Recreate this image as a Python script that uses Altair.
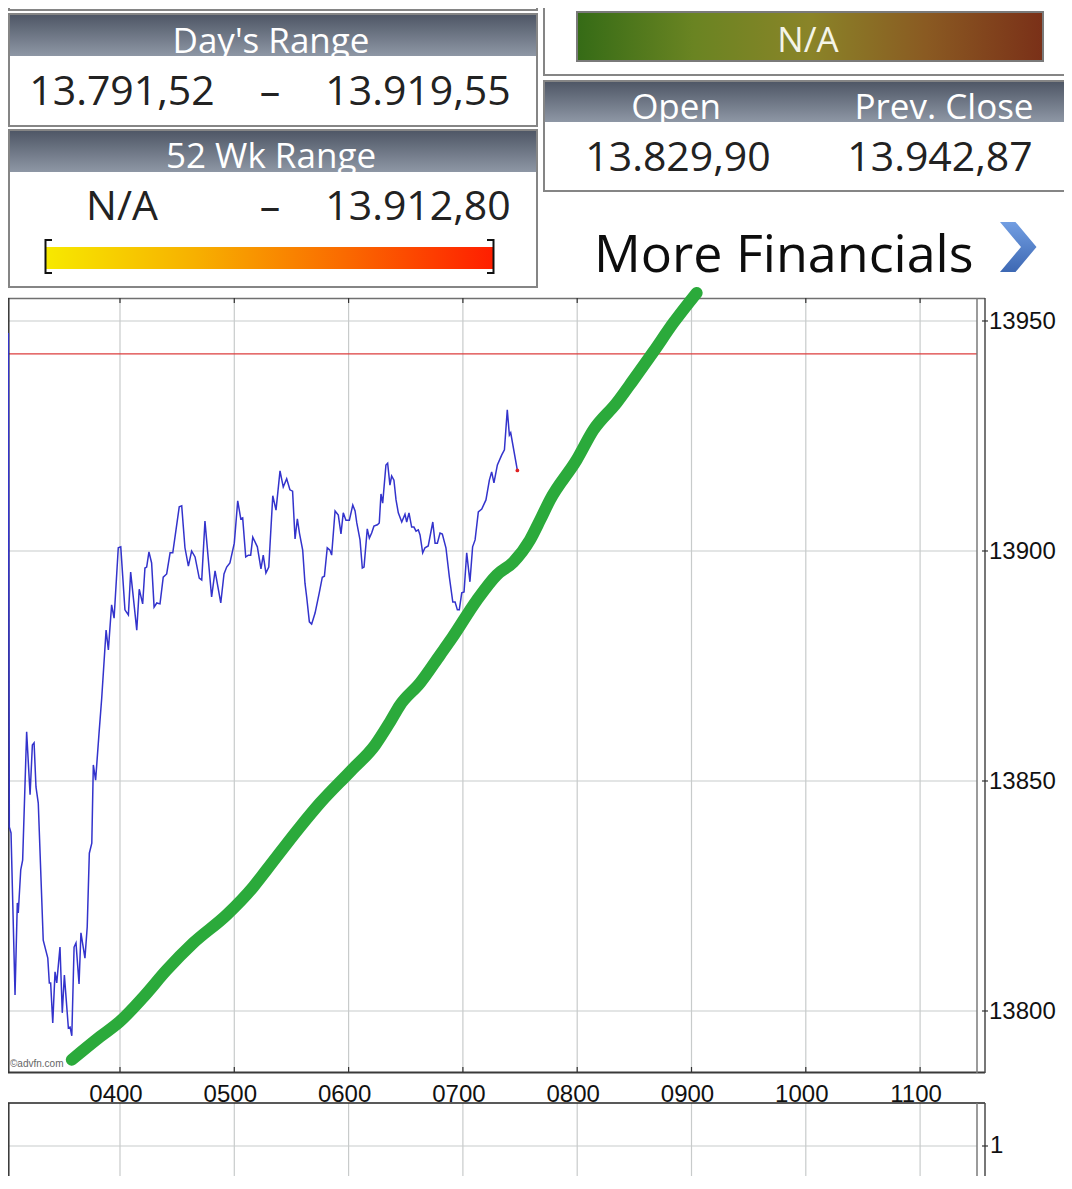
import altair as alt
import pandas as pd

# ---------------- data ----------------
# intraday index (minutes after midnight, value)
blue_t = [181.4, 181.9, 182.8, 184.9, 186.1, 186.6, 187.9, 188.9, 191.0, 192.8,
          194.0, 194.9, 195.9, 197.1, 199.7, 202.1, 202.9, 203.6, 204.7, 205.9,
          206.8, 208.5, 209.7, 210.8, 212.9, 213.8, 214.7, 215.9, 216.9, 218.5,
          219.5, 221.6, 222.8, 223.9, 225.2, 226.0, 227.2, 229.0, 230.4, 232.7,
          233.9, 235.6, 236.9, 239.1, 240.4, 242.6, 244.4, 245.6, 248.8, 250.1,
          251.9, 253.1, 254.0, 255.2, 256.6, 257.9, 259.3, 261.0, 262.7, 264.5,
          266.3, 267.7, 269.4, 271.1, 272.4, 274.1, 275.9, 277.6, 279.4, 281.6,
          282.9, 284.6, 288.1, 289.9, 292.9, 294.6, 296.0, 297.7, 300.0, 301.8,
          303.4, 304.4, 306.0, 307.4, 308.6, 309.7, 312.1, 314.0, 315.2, 316.6,
          318.1, 320.2, 321.9, 324.0, 325.7, 327.5, 329.2, 330.6, 331.9, 333.1,
          334.2, 335.9, 337.1, 338.0, 339.4, 340.6, 342.4, 344.6, 346.2, 347.3,
          348.8, 350.2, 351.1, 352.9, 354.6, 356.0, 357.2, 358.6, 360.4, 362.2,
          363.4, 364.3, 366.0, 367.2, 368.1, 369.8, 370.9, 372.1, 373.3, 375.1,
          376.1, 377.0, 377.9, 379.6, 380.5, 381.7, 382.6, 383.8, 384.9, 386.1,
          387.9, 389.6, 390.5, 391.7, 393.1, 394.3, 395.4, 396.6, 397.5, 398.9,
          400.1, 401.8, 404.2, 405.4, 406.6, 408.0, 409.2, 411.1, 412.9, 414.7,
          415.9, 417.1, 418.1, 419.4, 420.6, 422.0, 423.7, 425.1, 426.4, 428.1,
          429.9, 432.1, 433.9, 435.1, 436.3, 438.1, 440.4, 441.8, 443.3, 444.4,
          445.1, 448.6]
blue_v = [13947.4, 13840.0, 13838.7, 13803.5, 13823.5, 13821.3, 13830.7, 13832.8, 13860.7, 13847.0,
          13857.8, 13858.3, 13848.7, 13845.2, 13815.4, 13811.5, 13806.1, 13806.1, 13797.4, 13808.5,
          13806.1, 13813.9, 13799.6, 13807.8, 13796.3, 13796.5, 13794.6, 13813.9, 13814.8, 13805.9,
          13817.0, 13811.5, 13818.3, 13834.3, 13836.5, 13853.5, 13850.2, 13860.4, 13868.0, 13882.8,
          13878.5, 13888.3, 13885.4, 13900.7, 13900.9, 13887.2, 13886.1, 13895.4, 13882.8, 13891.7,
          13888.5, 13896.3, 13896.5, 13899.8, 13897.4, 13887.8, 13888.7, 13888.5, 13894.3, 13895.0,
          13899.6, 13899.6, 13904.6, 13909.6, 13909.8, 13900.7, 13896.7, 13900.0, 13898.7, 13894.1,
          13893.7, 13906.5, 13890.0, 13895.7, 13888.7, 13895.0, 13896.5, 13897.4, 13901.7, 13910.9,
          13907.0, 13907.2, 13898.7, 13899.1, 13899.1, 13903.0, 13900.9, 13896.1, 13899.1, 13895.2,
          13896.5, 13912.0, 13908.9, 13917.4, 13913.9, 13915.7, 13913.3, 13913.0, 13902.6, 13907.0,
          13903.9, 13900.2, 13893.0, 13890.0, 13884.6, 13884.1, 13886.5, 13890.9, 13894.3, 13894.5,
          13900.7, 13900.2, 13899.1, 13908.7, 13907.8, 13903.7, 13908.3, 13906.7, 13906.7, 13910.0,
          13908.7, 13906.1, 13902.4, 13896.3, 13896.5, 13904.8, 13902.8, 13903.9, 13905.4, 13905.7,
          13906.1, 13912.4, 13910.4, 13918.7, 13919.1, 13914.3, 13916.3, 13915.4, 13911.1, 13908.3,
          13906.3, 13908.0, 13906.3, 13908.3, 13905.2, 13905.2, 13904.3, 13904.6, 13903.5, 13899.6,
          13900.7, 13901.1, 13906.3, 13901.7, 13901.7, 13903.9, 13903.7, 13900.7, 13894.3, 13888.9,
          13888.9, 13887.2, 13887.2, 13890.9, 13891.1, 13899.6, 13893.3, 13900.9, 13902.4, 13908.5,
          13909.1, 13911.1, 13915.4, 13917.2, 13914.8, 13918.7, 13920.9, 13922.0, 13930.7, 13925.2,
          13925.7, 13917.5]

# hand-drawn green trend stroke
green_t = [214.7, 229.5, 239.6, 252.2, 264.5, 278.5, 296.0, 310.0, 317.0, 334.5,
           345.0, 360.7, 373.9, 381.7, 387.0, 397.5, 408.0, 414.3, 427.3, 437.8,
           446.5, 455.2, 460.5, 465.7, 479.7, 488.5, 500.7, 509.5, 520.0, 530.5, 542.7]
green_v = [13789.4, 13794.4, 13797.6, 13803.0, 13808.9, 13814.8, 13820.9, 13827.0, 13830.7, 13840.0,
           13845.2, 13852.0, 13857.8, 13862.8, 13866.5, 13871.3, 13877.4, 13881.1, 13889.3, 13894.8,
           13897.6, 13902.4, 13906.7, 13911.1, 13919.8, 13926.3, 13932.2, 13937.2, 13943.3, 13949.6, 13956.1]

prev_close = 13942.87
hour_ticks = [240, 300, 360, 420, 480, 540, 600, 660]
hour_labels = ["0400", "0500", "0600", "0700", "0800", "0900", "1000", "1100"]
y_ticks = [13800, 13850, 13900, 13950]
y_labels = ["13800", "13850", "13900", "13950"]

days_range = ["13.791,52", "13.919,55"]
wk52_range = ["N/A", "13.912,80"]
sentiment = "N/A"
open_close_titles = ["Open", "Prev. Close"]
open_close_vals = ["13.829,90", "13.942,87"]
more_text = "More Financials"
credit = "\u00a9advfn.com"

# ---------------- layout ----------------
M = 8
W, H = 1056, 1168
xs = alt.Scale(domain=[181.21, 735.54], nice=False, zero=False)
ys = alt.Scale(domain=[13764.13, 14018.04], nice=False, zero=False)
one = pd.DataFrame({"k": [0]})
FONT = "Open Sans"


def R(x1, y1, x2, y2, **kw):
    return alt.Chart(one).mark_rect(**kw).encode(
        x=alt.value(x1 - M), x2=alt.value(x2 - M),
        y=alt.value(y1 - M), y2=alt.value(y2 - M))


def T(txt, x, y, size, color="#222222", align="center", font=FONT, baseline="alphabetic"):
    return alt.Chart(one).mark_text(text=txt, fontSize=size, color=color, align=align,
                                    font=font, baseline=baseline).encode(
        x=alt.value(x - M), y=alt.value(y - M))


def HL(x1, x2, y, color, w=1.0):
    return alt.Chart(one).mark_rule(color=color, strokeWidth=w).encode(
        x=alt.value(x1 - M), x2=alt.value(x2 - M), y=alt.value(y - M))


def VL(x, y1, y2, color, w=1.0):
    return alt.Chart(one).mark_rule(color=color, strokeWidth=w).encode(
        x=alt.value(x - M), y=alt.value(y1 - M), y2=alt.value(y2 - M))


def vgrad(c1, c2):
    return alt.LinearGradient(gradient="linear",
                              stops=[alt.GradientStop(color=c1, offset=0),
                                     alt.GradientStop(color=c2, offset=1)],
                              x1=0, x2=0, y1=0, y2=1)


def hgrad(cols):
    n = len(cols) - 1
    return alt.LinearGradient(gradient="linear",
                              stops=[alt.GradientStop(color=c, offset=i / n) for i, c in enumerate(cols)],
                              x1=0, x2=1, y1=0, y2=0)


hdr = vgrad("#4f5766", "#8e97a5")
PB = dict(fill="white", stroke="#858585", strokeWidth=2)

layers = []
# ---- header panels (left) ----
layers += [R(9, -20, 537, 10, **PB)]
layers += [R(9, 14, 537, 126, **PB), R(10, 15, 536, 56, fill=hdr),
           T("Day's Range", 271, 53, 35, color="white"),
           T(days_range[0], 122, 105, 41), T("\u2013", 270, 105, 41), T(days_range[1], 418, 105, 41)]
layers += [R(9, 130, 537, 287, **PB), R(10, 131, 536, 172, fill=hdr),
           T("52 Wk Range", 271, 168, 35, color="white"),
           T(wk52_range[0], 122, 220, 41), T("\u2013", 270, 220, 41), T(wk52_range[1], 418, 220, 41),
           R(46, 247, 494, 269, fill=hgrad(["#f7e900", "#f7b000", "#fa6a00", "#ff1e00"])),
           VL(45.5, 239, 274, "#111", 2), HL(45, 52, 240, "#111", 2), HL(45, 52, 273, "#111", 2),
           VL(493.5, 239, 274, "#111", 2), HL(487, 494, 240, "#111", 2), HL(487, 494, 273, "#111", 2)]
# ---- header panels (right) ----
layers += [R(544, -20, 1090, 75, **PB),
           R(577, 12, 1043, 61, fill=hgrad(["#356b16", "#6a8422", "#8a8428", "#8a5a22", "#7a3018"]),
             stroke="#7a7a7a", strokeWidth=2),
           T(sentiment, 808, 52, 35, color="#f4f4e8")]
layers += [R(544, 81, 1090, 191, **PB), R(545, 82, 1090, 122, fill=hdr),
           T(open_close_titles[0], 676, 119, 35, color="white"),
           T(open_close_titles[1], 944, 119, 35, color="white"),
           T(open_close_vals[0], 678, 171, 41), T(open_close_vals[1], 940, 171, 41)]
layers += [T(more_text, 594, 272, 52, color="#0d0d0d", align="left"),
           alt.Chart(one).mark_point(
               shape="M-0.72,-1 L-0.1,-1 L0.74,0 L-0.1,1 L-0.72,1 L0.12,0 Z",
               filled=True, fill=vgrad("#729ee2", "#3d68b3"), opacity=1, size=2500, strokeWidth=0
           ).encode(x=alt.value(1018 - M), y=alt.value(247 - M))]

# ---- chart frame & grid ----
ticks_df = pd.DataFrame({"t": hour_ticks, "lab": hour_labels})
yt_df = pd.DataFrame({"v": y_ticks, "lab": y_labels})
X = alt.X("t:Q", scale=xs, axis=None)
Y = alt.Y("v:Q", scale=ys, axis=None)
GRID = "#c8cbcb"

layers += [
    alt.Chart(ticks_df).mark_rule(color=GRID, strokeWidth=1.2).encode(
        x=X, y=alt.value(299 - M), y2=alt.value(1072 - M)),
    alt.Chart(ticks_df).mark_rule(color=GRID, strokeWidth=1.2).encode(
        x=X, y=alt.value(1103 - M), y2=alt.value(H + 20)),
    alt.Chart(yt_df).mark_rule(color=GRID, strokeWidth=1.2).encode(
        y=Y, x=alt.value(9 - M), x2=alt.value(977 - M)),
    HL(9, 977, 1146, GRID, 1.2),
    alt.Chart(pd.DataFrame({"v": [prev_close]})).mark_rule(color="#dc3c3c", strokeWidth=1.2).encode(
        y=Y, x=alt.value(9 - M), x2=alt.value(977 - M)),
]
# frame lines
layers += [
    HL(0, 985, 298.5, "#707070", 1.5),
    HL(8, 985, 1072.5, "#3a3a3a", 2),
    VL(8.8, 298, 1073, "#333", 1.5),
    VL(977, 298, 1073, "#7a7a7a", 1.5),
    VL(985, 298, 1073, "#4a4a4a", 1.5),
    HL(8, 985, 1103, "#222", 1.5),
    VL(8.8, 1103, 1200, "#333", 1.5),
    VL(977, 1103, 1200, "#7a7a7a", 1.5),
    VL(985, 1103, 1200, "#4a4a4a", 1.5),
    HL(982, 988, 1146, "#333", 1.2),
    alt.Chart(ticks_df).mark_rule(color="#333", strokeWidth=1.2).encode(
        x=X, y=alt.value(298 - M), y2=alt.value(303 - M)),
    alt.Chart(ticks_df).mark_rule(color="#333", strokeWidth=1.2).encode(
        x=X, y=alt.value(1067 - M), y2=alt.value(1072 - M)),
    alt.Chart(yt_df).mark_rule(color="#333", strokeWidth=1.2).encode(
        y=Y, x=alt.value(982 - M), x2=alt.value(988 - M)),
]
# axis labels
layers += [
    alt.Chart(yt_df).mark_text(align="left", baseline="middle", fontSize=24,
                               font="Liberation Sans", color="#111", dy=1).encode(
        y=Y, x=alt.value(989 - M), text="lab:N"),
    alt.Chart(ticks_df).mark_text(align="center", baseline="alphabetic", fontSize=24,
                                  font="Liberation Sans", color="#111", dx=-4).encode(
        x=X, y=alt.value(1102 - M), text="lab:N"),
    T("1", 990, 1146, 24, color="#111", align="left", font="Liberation Sans", baseline="middle"),
    T(credit, 10, 1067, 10, color="#666", align="left", font="Liberation Sans"),
]

# ---- series ----
n = min(len(blue_t), len(blue_v))
blue_df = pd.DataFrame({"t": blue_t[:n], "v": blue_v[:n]})
green_df = pd.DataFrame({"t": green_t, "v": green_v})
layers += [
    alt.Chart(blue_df).mark_line(color="#3333cc", strokeWidth=1.5).encode(x=X, y=Y),
    alt.Chart(blue_df.tail(1)).mark_circle(color="#e02020", size=14, opacity=1).encode(x=X, y=Y),
    alt.Chart(green_df).mark_line(color="#2baa3b", strokeWidth=12, strokeCap="round",
                                  strokeJoin="round", interpolate="monotone").encode(x=X, y=Y),
]

chart = alt.layer(*layers).properties(
    width=W, height=H, padding=0, autosize="none", background="white"
).configure_view(strokeWidth=0)

chart.save("out.html", embed_options={"renderer": "svg", "actions": False})
